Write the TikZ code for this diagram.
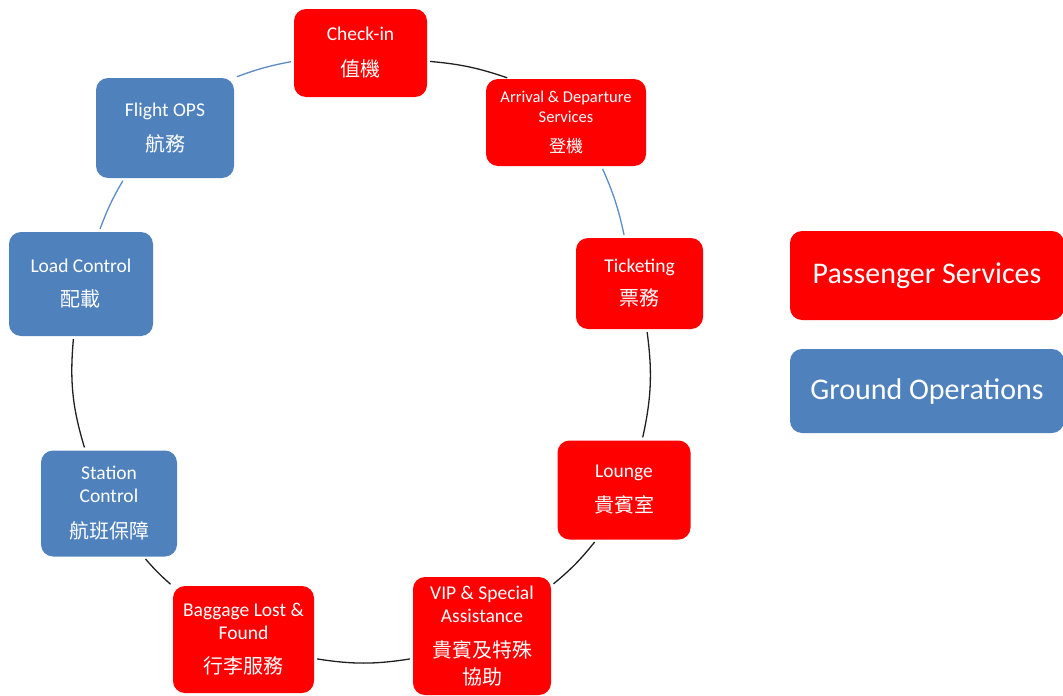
\documentclass[tikz,border=0pt]{standalone}
\usepackage{fontspec}
\setmainfont{Carlito}
\newfontfamily\cjkfont{Noto Sans CJK TC}
\definecolor{psred}{HTML}{FF0000}
\definecolor{gobl}{HTML}{4F81BD}
\definecolor{lnbl}{HTML}{5B8BC8}
\definecolor{lnbk}{HTML}{202020}
\newcommand\cjkline[1]{{\fontsize{20}{22}\selectfont\cjkfont #1}}
\newcommand\cjksmall[1]{{\fontsize{17}{20}\selectfont\cjkfont #1}}
\tikzset{
  box/.style={rounded corners=12pt, text=white, align=center, inner sep=0pt, font=\fontsize{19.5}{23}\selectfont},
  psbox/.style={box, fill=psred},
  gobox/.style={box, fill=gobl},
  legend/.style={rounded corners=12pt, text=white, inner sep=0pt, font=\fontsize{30}{34}\selectfont, minimum width=274pt},
  conn/.style={line width=1.3pt, draw=lnbk, shorten <=3pt, shorten >=3pt},
  connb/.style={conn, draw=lnbl}
}
\begin{document}
\begin{tikzpicture}[x=1pt,y=1pt]
\useasboundingbox (0,-696) rectangle (1063,0);

\node[psbox, minimum width=133pt, minimum height=88pt] (checkin) at (360.5,-53) {Check-in\\[13pt]\cjkline{值機}};
\node[psbox, minimum width=160pt, minimum height=87pt, font=\fontsize{16.5}{19.5}\selectfont] (ad) at (566,-122.5) {Arrival \& Departure\\Services\\[11pt]\cjksmall{登機}};
\node[psbox, minimum width=127pt, minimum height=91pt] (ticket) at (639.5,-283.5) {Ticketing\\[10pt]\cjkline{票務}};
\node[psbox, minimum width=133pt, minimum height=99pt] (lounge) at (624,-490) {Lounge\\[12pt]\cjkline{貴賓室}};
\node[psbox, minimum width=138pt, minimum height=118pt] (vip) at (482,-636) {VIP \& Special\\Assistance\\[12pt]\cjkline{貴賓及特殊}\\[4pt]\cjkline{協助}};
\node[psbox, minimum width=141pt, minimum height=107pt] (bag) at (243.5,-639.5) {Baggage Lost \&\\Found\\[11pt]\cjkline{行李服務}};
\node[gobox, minimum width=136pt, minimum height=106pt] (station) at (109,-503.5) {Station\\Control\\[13pt]\cjkline{航班保障}};
\node[gobox, minimum width=144pt, minimum height=104pt] (load) at (81,-284) {Load Control\\[11pt]\cjkline{配載}};
\node[gobox, minimum width=138pt, minimum height=100pt] (flight) at (165,-128) {Flight OPS\\[12pt]\cjkline{航務}};

\node[legend, fill=psred, minimum height=89pt] (ps) at (927,-275.5) {Passenger Services};
\node[legend, fill=gobl, minimum height=84pt] (go) at (927,-391) {Ground Operations};

\draw[conn]  (checkin.-7)  to[bend left=7]  (ad.142);
\draw[connb] (ad.-51)      to[bend left=6]  (ticket.108);
\draw[conn]  (ticket.-81)  to[bend left=10] (lounge.70);
\draw[conn]  (lounge.-119) to[bend left=6]  (vip.36);
\draw[conn]  (vip.198)     to[bend left=9]  (bag.-15);
\draw[conn]  (bag.143)     to[bend left=4]  (station.-57);
\draw[conn]  (station.114) to[bend left=11] (load.-98);
\draw[connb] (load.71)     to[bend left=5]  (flight.231);
\draw[connb] (flight.36)   to[bend left=5]  (checkin.187);
\end{tikzpicture}
\end{document}
